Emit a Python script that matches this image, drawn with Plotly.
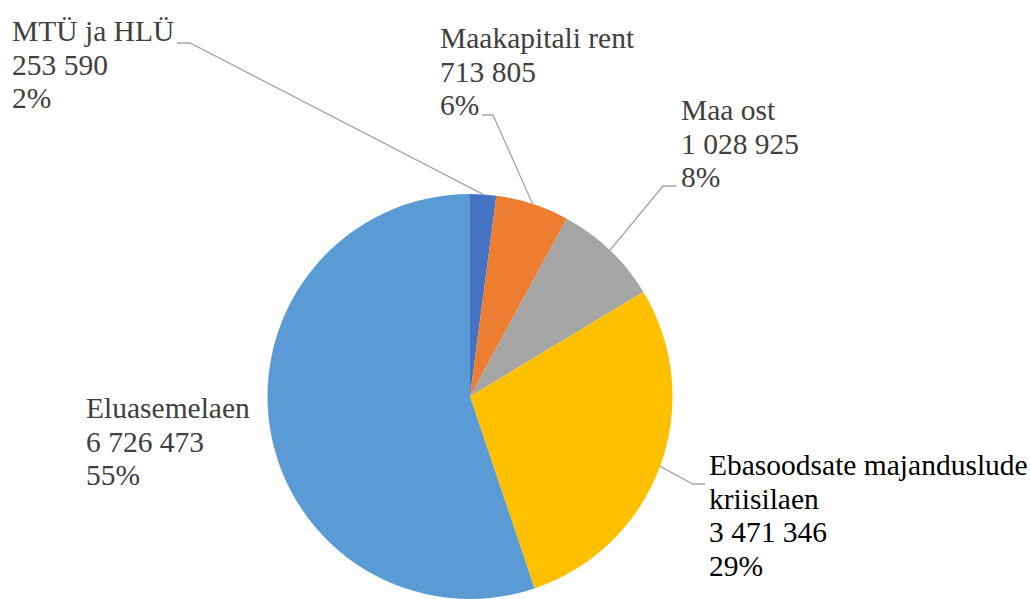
import math
import plotly.graph_objects as go

# ---- data ----
categories = ["MTÜ ja HLÜ", "Maakapitali rent", "Maa ost",
              "Ebasoodsate majanduslude kriisilaen", "Eluasemelaen"]
values = [253590, 713805, 1028925, 3471346, 6726473]
percent_labels = ["2%", "6%", "8%", "29%", "55%"]  # as printed on the chart
colors = ["#4472C4", "#ED7D31", "#A5A5A5", "#FFC000", "#5B9BD5"]
# label text lines (category name wrapped as in the original)
name_lines = [["MTÜ ja HLÜ"], ["Maakapitali rent"], ["Maa ost"],
              ["Ebasoodsate majanduslude", "kriisilaen"], ["Eluasemelaen"]]

# ---- layout constants (pixels) ----
W, H = 1030, 599
CX, CY, R = 470, 396.5, 202.5
FONT = "Liberation Serif"
FS = 29.5
LINE_STEP = 33.7
# label left x, first-line centre y, text colour, leader elbow (x, y) or None
label_pos = [
    (12, 31, "#404040", [(177, 43), (190, 43)]),
    (440, 38, "#404040", [(482, 115), (493, 115)]),
    (681, 110, "#404040", [(676, 186), (663, 186)]),
    (709, 465, "#000000", [(705, 484), (693, 484)]),
    (86, 408, "#404040", None),
]

fig = go.Figure()
fig.add_trace(go.Pie(
    labels=categories,
    values=values,
    sort=False,
    direction="clockwise",
    rotation=0,
    marker=dict(colors=colors),
    textinfo="none",
    domain=dict(x=[(CX - R) / W, (CX + R) / W], y=[0, 1 - (CY - R) / H]),
    showlegend=False,
))

total = sum(values)
annotations = []
cum = 0
for i, v in enumerate(values):
    frac = v / total
    mid = (cum + frac / 2) * 2 * math.pi
    cum += frac
    lx, ly, col, elbow = label_pos[i]
    lines = name_lines[i] + [f"{v:,}".replace(",", " "), percent_labels[i]]
    for k, t in enumerate(lines):
        annotations.append(dict(
            x=lx - 2, y=H - (ly + k * LINE_STEP), xref="x", yref="y",
            text=t, showarrow=False, xanchor="left", yanchor="middle",
            font=dict(family=FONT, size=FS, color=col),
        ))
    if elbow:
        ex = CX + R * math.sin(mid)
        ey = CY - R * math.cos(mid)
        pts = elbow + [(ex, ey)]
        fig.add_trace(go.Scatter(
            x=[p[0] for p in pts], y=[H - p[1] for p in pts],
            mode="lines", line=dict(color="#A6A6A6", width=1.3),
            hoverinfo="skip", showlegend=False,
        ))

fig.update_layout(
    width=W, height=H,
    margin=dict(l=0, r=0, t=0, b=0),
    paper_bgcolor="white", plot_bgcolor="rgba(0,0,0,0)",
    xaxis=dict(range=[0, W], visible=False, fixedrange=True),
    yaxis=dict(range=[0, H], visible=False, fixedrange=True),
    annotations=annotations,
    font=dict(family=FONT),
)

fig.write_html("out.html", config={"displayModeBar": False},
               post_script="document.body.style.margin='0';")
